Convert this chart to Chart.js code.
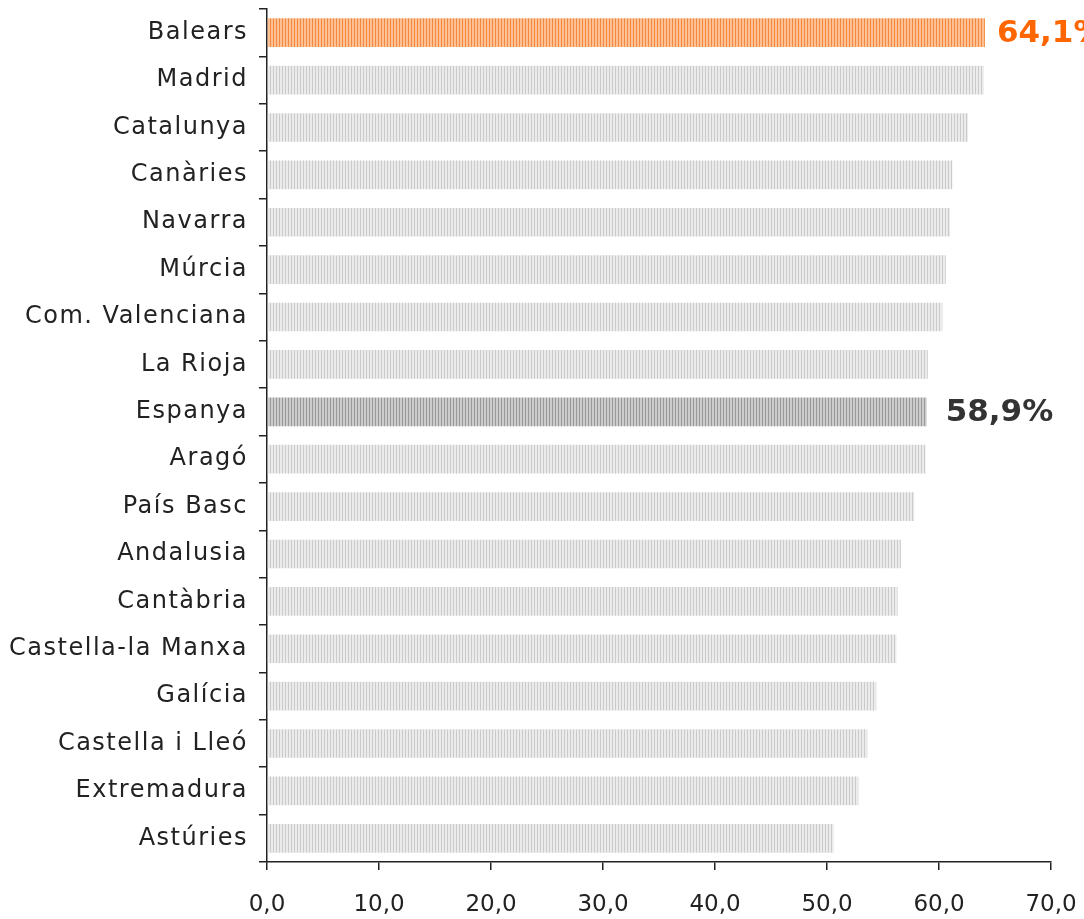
<!DOCTYPE html>
<html>
<head>
<meta charset="utf-8">
<script src="https://cdn.jsdelivr.net/npm/chart.js@4/dist/chart.umd.min.js"></script>
<style>
html,body{margin:0;padding:0;background:#fff;}
#wrap{position:relative;width:1084px;height:919px;}
</style>
</head>
<body>
<div id="wrap"><canvas id="c" width="1084" height="919"></canvas></div>
<script>
const categories = ["Balears","Madrid","Catalunya","Canàries","Navarra","Múrcia","Com. Valenciana","La Rioja","Espanya","Aragó","País Basc","Andalusia","Cantàbria","Castella-la Manxa","Galícia","Castella i Lleó","Extremadura","Astúries"];
const values = [64.1,64.0,62.6,61.2,61.0,60.6,60.3,59.0,58.9,58.8,57.8,56.6,56.3,56.2,54.4,53.6,52.8,50.6];
const xTicks = [0,10,20,30,40,50,60,70];
const highlightLabels = {"Balears":"64,1%","Espanya":"58,9%"};

const labelStyle = {"Balears":{color:"#ff6600",dx:12},"Espanya":{color:"#333333",dx:19}};

function stripe(bg, line) {
  const c = document.createElement('canvas');
  c.width = 3; c.height = 4;
  const g = c.getContext('2d');
  g.fillStyle = bg; g.fillRect(0,0,3,4);
  g.fillStyle = line; g.fillRect(0,0,1,4);
  return g.createPattern(c,'repeat');
}
const ctx = document.getElementById('c').getContext('2d');
const pGray = stripe('#ebebeb','#cbcbcb');
const pOrange = stripe('#fcc094','#f58a3e');
const pDark = stripe('#cccccc','#999999');
const colors = categories.map(c => c==="Balears" ? pOrange : (c==="Espanya" ? pDark : pGray));

const labelPlugin = {
  id:'valLabels',
  afterDatasetsDraw(chart){
    const meta = chart.getDatasetMeta(0);
    const g = chart.ctx;
    g.save();
    g.font = 'bold 31px "DejaVu Sans", sans-serif';
    g.textBaseline = 'middle';
    g.textAlign = 'left';
    meta.data.forEach((bar,i)=>{
      const t = highlightLabels[categories[i]];
      if(!t) return;
      const s = labelStyle[categories[i]];
      g.fillStyle = s.color;
      g.fillText(t, bar.x + s.dx, bar.y + 1);
    });
    g.restore();
  }
};

new Chart(ctx,{
  type:'bar',
  data:{labels:categories,datasets:[{data:values,backgroundColor:colors,barPercentage:0.605,categoryPercentage:1.0}]},
  options:{
    indexAxis:'y',
    responsive:false,
    animation:false,
    layout:{padding:{top:9,right:33,left:0,bottom:0}},
    plugins:{legend:{display:false},tooltip:{enabled:false}},
    scales:{
      x:{min:0,max:70,
        afterBuildTicks(ax){ax.ticks = xTicks.map(v=>({value:v}));},
        afterFit(ax){ax.height = 57; ax.paddingLeft = 0; ax.paddingRight = 0;},
        ticks:{color:'#222',font:{family:'"DejaVu Sans", sans-serif',size:23},padding:21,maxRotation:0,
          callback:(v)=>Number(v).toFixed(1).replace('.',',')},
        grid:{drawOnChartArea:false,drawTicks:true,tickLength:8,color:'#222',lineWidth:1.5},
        border:{color:'#222',width:1.5}
      },
      y:{
        afterFit(ax){
          ax.width = 267; ax.paddingTop = 0; ax.paddingBottom = 0;
          if(!ax._ls){
            const orig = ax.drawLabels.bind(ax);
            ax.drawLabels = function(area){
              const c = this.ctx; const prev = c.letterSpacing;
              c.letterSpacing = '1.5px'; orig(area); c.letterSpacing = prev;
            };
            ax._ls = true;
          }
        },
        ticks:{color:'#222',font:{family:'"DejaVu Sans", sans-serif',size:24},padding:11},
        grid:{drawOnChartArea:false,drawTicks:true,tickLength:8,color:'#222',lineWidth:1.5,offset:true},
        border:{color:'#222',width:1.5}
      }
    }
  },
  plugins:[labelPlugin]
});
</script>
</body>
</html>
